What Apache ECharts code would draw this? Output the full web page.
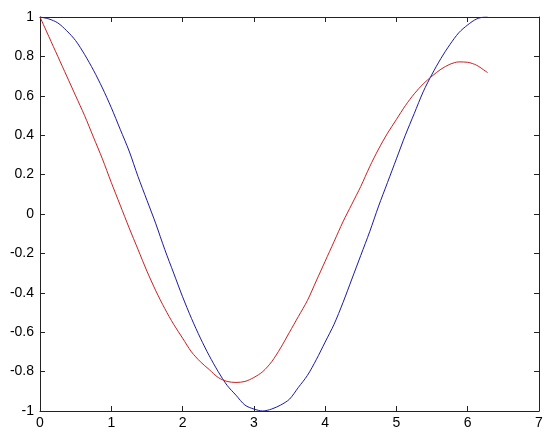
<!DOCTYPE html>
<html>
<head>
<meta charset="utf-8">
<script src="https://cdn.jsdelivr.net/npm/echarts@6/dist/echarts.min.js"></script>
<style>
    html, body { margin: 0; padding: 0; background: #fff; }
    #container { width: 550px; height: 440px; }
</style>
</head>
<body>
<div id="container"></div>
<script>
// values, every 0.125 along x
var xs = [0, 0.125, 0.25, 0.375, 0.5, 0.625, 0.75, 0.875, 1, 1.125, 1.25, 1.375, 1.5, 1.625, 1.75, 1.875,
          2, 2.125, 2.25, 2.375, 2.5, 2.625, 2.75, 2.875, 3, 3.125, 3.25, 3.375, 3.5, 3.625, 3.75, 3.875,
          4, 4.125, 4.25, 4.375, 4.5, 4.625, 4.75, 4.875, 5, 5.125, 5.25, 5.375, 5.5, 5.625, 5.75, 5.875,
          6, 6.125, 6.25, 6.28];
var yBlue = [1.00, 0.99, 0.97, 0.93, 0.88, 0.81, 0.73, 0.64, 0.54, 0.43, 0.32, 0.19, 0.07, -0.05, -0.18, -0.30,
             -0.42, -0.53, -0.63, -0.72, -0.80, -0.87, -0.92, -0.97, -0.99, -1.00, -0.99, -0.97, -0.94, -0.88, -0.82, -0.74,
             -0.65, -0.56, -0.45, -0.33, -0.21, -0.09, 0.04, 0.16, 0.28, 0.40, 0.51, 0.62, 0.71, 0.79, 0.86, 0.92,
             0.96, 0.99, 1.00, 1.00];
var yRed = [1.00, 0.90, 0.80, 0.70, 0.60, 0.50, 0.39, 0.28, 0.16, 0.045, -0.07, -0.18, -0.29, -0.39, -0.48, -0.56,
            -0.63, -0.70, -0.75, -0.79, -0.83, -0.85, -0.855, -0.85, -0.83, -0.80, -0.75, -0.68, -0.60, -0.52, -0.44, -0.34,
            -0.24, -0.14, -0.04, 0.05, 0.14, 0.24, 0.33, 0.41, 0.48, 0.55, 0.61, 0.66, 0.70, 0.735, 0.76, 0.772,
            0.77, 0.755, 0.725, 0.718];

function pairs(x, y) {
    var out = [];
    for (var i = 0; i < x.length; i++) out.push([x[i], y[i]]);
    return out;
}

var dom = document.getElementById("container");
var myChart = echarts.init(dom);

var axisLine = { show: true, onZero: false, lineStyle: { color: '#222', width: 1 } };
var tick = { show: true, inside: true, length: 5, lineStyle: { color: '#222' } };
var label = { color: '#000', fontSize: 14, fontFamily: 'Liberation Sans, Arial, sans-serif' };

var option = {
    animation: false,
    backgroundColor: '#fff',
    grid: { left: 40, right: 11, top: 17, bottom: 29 },
    xAxis: [
        {
            type: 'value', min: 0, max: 7, interval: 1, position: 'bottom',
            axisLine: axisLine, axisTick: tick, splitLine: { show: false },
            axisLabel: Object.assign({ margin: 5 }, label)
        },
        {
            type: 'value', min: 0, max: 7, interval: 1, position: 'top',
            axisLine: axisLine, axisTick: tick, splitLine: { show: false },
            axisLabel: { show: false }
        }
    ],
    yAxis: [
        {
            type: 'value', min: -1, max: 1, interval: 0.2, position: 'left',
            axisLine: axisLine, axisTick: tick, splitLine: { show: false },
            axisLabel: Object.assign({
                margin: 6,
                formatter: function (v) { return String(Math.round(v * 10) / 10); }
            }, label)
        },
        {
            type: 'value', min: -1, max: 1, interval: 0.2, position: 'right',
            axisLine: axisLine, axisTick: tick, splitLine: { show: false },
            axisLabel: { show: false }
        }
    ],
    series: [
        {
            name: 'blue', type: 'line', smooth: 0.3, showSymbol: false,
            data: pairs(xs, yBlue),
            lineStyle: { color: '#1a1aa0', width: 1 }
        },
        {
            name: 'red', type: 'line', smooth: 0.3, showSymbol: false,
            data: pairs(xs, yRed),
            lineStyle: { color: '#c82020', width: 1 }
        }
    ]
};
myChart.setOption(option, true);
</script>
</body>
</html>
